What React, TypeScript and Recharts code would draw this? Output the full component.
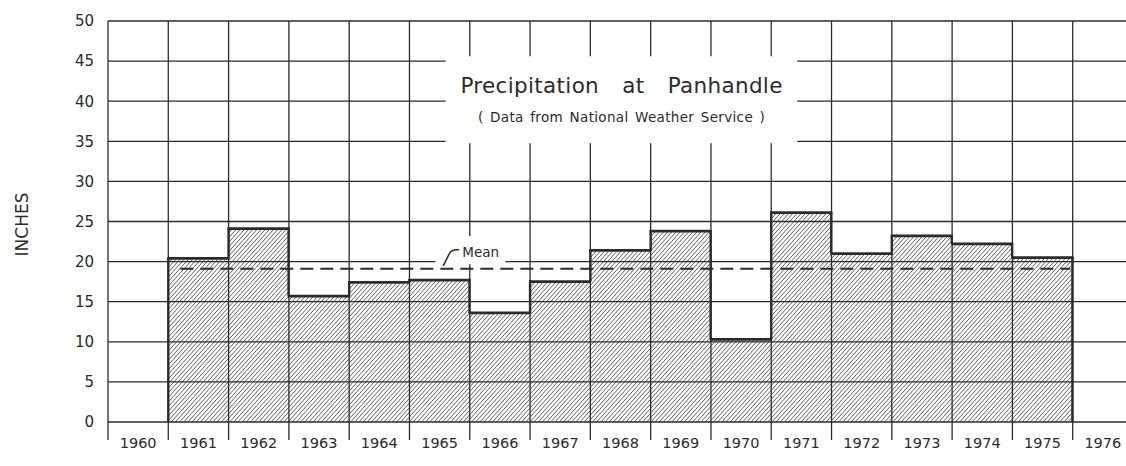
import React from 'react';
import {
  ComposedChart,
  Bar,
  XAxis,
  YAxis,
  CartesianGrid,
  ReferenceLine,
  ReferenceArea,
  ReferenceDot
} from 'recharts';

// annual precipitation, inches
const years = ['1960', '1961', '1962', '1963', '1964', '1965', '1966', '1967', '1968',
  '1969', '1970', '1971', '1972', '1973', '1974', '1975', '1976'];
const inches = [null, 20.4, 24.1, 15.7, 17.4, 17.7, 13.6, 17.5, 21.4,
  23.8, 10.3, 26.1, 21.0, 23.2, 22.2, 20.5, null];
const yearEdges = [1960, 1961, 1962, 1963, 1964, 1965, 1966, 1967, 1968,
  1969, 1970, 1971, 1972, 1973, 1974, 1975, 1976, 1977];
const inchTicks = [0, 5, 10, 15, 20, 25, 30, 35, 40, 45, 50];
const meanInches = 19.1;
const meanSpan = [1961.2, 1975.96];

const data = years.map((y, i) => ({ year: y, yr: Number(y), inches: inches[i] }));

const INK = '#2b2b2b';
const FONT = '"DejaVu Sans", sans-serif';

const HatchBar = (props: any) => {
  const { x, y, width, height, payload } = props;
  const i = years.indexOf(payload.year);
  const v = inches[i];
  if (v == null || !height) return null;
  const perInch = height / v;
  const bottom = y + height;
  const prev = inches[i - 1] ?? 0;
  const next = inches[i + 1] ?? 0;
  return (
    <g>
      <defs>
        <pattern id="hatch" patternUnits="userSpaceOnUse" width="3.1" height="3.1" patternTransform="rotate(42)">
          <line x1="0" y1="0" x2="0" y2="3.1" stroke="#2c2c2c" strokeWidth="1.15" />
        </pattern>
      </defs>
      <rect x={x} y={y} width={width} height={height} fill="url(#hatch)" />
      <line x1={x - 1} x2={x + width + 1} y1={y} y2={y} stroke={INK} strokeWidth={2.8} />
      {prev < v && (
        <line x1={x} x2={x} y1={y - 1} y2={bottom - prev * perInch} stroke={INK} strokeWidth={2.4} />
      )}
      {next < v && (
        <line x1={x + width} x2={x + width} y1={y - 1} y2={bottom - next * perInch} stroke={INK} strokeWidth={2.4} />
      )}
    </g>
  );
};

// year label centred in its column, with the column-edge tick mark under the axis
const YearTick = (props: any) => {
  const { x, y, payload, width, visibleTicksCount, index } = props;
  const half = width / visibleTicksCount / 2;
  return (
    <g>
      <line x1={x - half} x2={x - half} y1={y} y2={y + 18} stroke={INK} strokeWidth={1.3} />
      {index === visibleTicksCount - 1 && (
        <line x1={x + half} x2={x + half} y1={y} y2={y + 18} stroke={INK} strokeWidth={1.3} />
      )}
      <text x={x} y={y + 26} textAnchor="middle" fontSize={14.5} fontFamily={FONT} fill={INK}>
        {payload.value}
      </text>
    </g>
  );
};

const NoTick = () => <g />;

const TitleBlock = (props: any) => {
  const { x, y, width } = props.viewBox;
  const cx = x + width / 2;
  return (
    <g fontFamily={FONT} fill={INK}>
      <text x={cx} y={y + 37} textAnchor="middle" fontSize={21.5} wordSpacing={16}
        textLength={322} lengthAdjust="spacing">
        Precipitation at Panhandle
      </text>
      <text x={cx} y={y + 66} textAnchor="middle" fontSize={13.5} wordSpacing={2}
        textLength={287} lengthAdjust="spacing">
        ( Data from National Weather Service )
      </text>
    </g>
  );
};

const MeanTag = (props: any) => {
  const { cx, cy } = props;
  return (
    <g>
      <path
        d={`M${cx},${cy - 3} L${cx + 6},${cy - 15} Q${cx + 8},${cy - 19} ${cx + 14},${cy - 19} L${cx + 16},${cy - 19}`}
        stroke={INK}
        strokeWidth={1.5}
        fill="none"
      />
      <text x={cx + 19} y={cy - 12} fontSize={13.5} fontFamily={FONT} fill={INK}>Mean</text>
    </g>
  );
};

const InchesLabel = (props: any) => {
  const { x, y, height } = props.viewBox;
  const px = x + 22;
  const py = y + height / 2 + 3;
  return (
    <text x={px} y={py} transform={`rotate(-90 ${px} ${py})`} textAnchor="middle" dominantBaseline="central"
      fontSize={17} fontFamily={FONT} fill={INK}>
      INCHES
    </text>
  );
};

export default function App() {
  return (
    <div style={{ position: 'absolute', left: 0, top: 0, width: 1126, height: 466, overflow: 'hidden', background: '#fff' }}>
      <ComposedChart
        width={1140}
        height={466}
        data={data}
        margin={{ top: 21, right: 7, bottom: 0, left: 0 }}
        barCategoryGap={0}
        barGap={0}
      >
        <CartesianGrid stroke={INK} strokeWidth={1.3} />
        <XAxis
          xAxisId="cat"
          dataKey="year"
          interval={0}
          tickLine={false}
          axisLine={false}
          tickSize={0}
          tickMargin={0}
          height={44}
          tick={YearTick}
        />
        <XAxis
          xAxisId={0}
          dataKey="yr"
          type="number"
          domain={[1960, 1977]}
          allowDataOverflow
          ticks={yearEdges}
          interval={0}
          tick={NoTick}
          tickLine={false}
          axisLine={false}
          height={0}
        />
        <YAxis
          type="number"
          domain={[0, 50]}
          ticks={inchTicks}
          interval={0}
          width={108}
          axisLine={false}
          tickLine={false}
          tickSize={0}
          tickMargin={14}
          tick={{ fontSize: 15, fill: INK, fontFamily: FONT }}
          label={{ content: InchesLabel }}
        />
        <ReferenceArea
          x1={1965.6}
          x2={1971.43}
          y1={34.75}
          y2={45.6}
          fill="#fff"
          fillOpacity={1}
          stroke="none"
          label={{ content: TitleBlock }}
        />
        <ReferenceArea
          x1={1965.43}
          x2={1966.59}
          y1={19.66}
          y2={23.15}
          fill="#fff"
          fillOpacity={1}
          stroke="none"
        />
        <Bar xAxisId="cat" dataKey="inches" shape={HatchBar} isAnimationActive={false} />
        <ReferenceLine
          segment={[{ x: meanSpan[0], y: meanInches }, { x: meanSpan[1], y: meanInches }]}
          stroke={INK}
          strokeWidth={2}
          strokeDasharray="13 7"
        />
        <ReferenceDot x={1965.56} y={meanInches} shape={MeanTag} />
      </ComposedChart>
    </div>
  );
}
